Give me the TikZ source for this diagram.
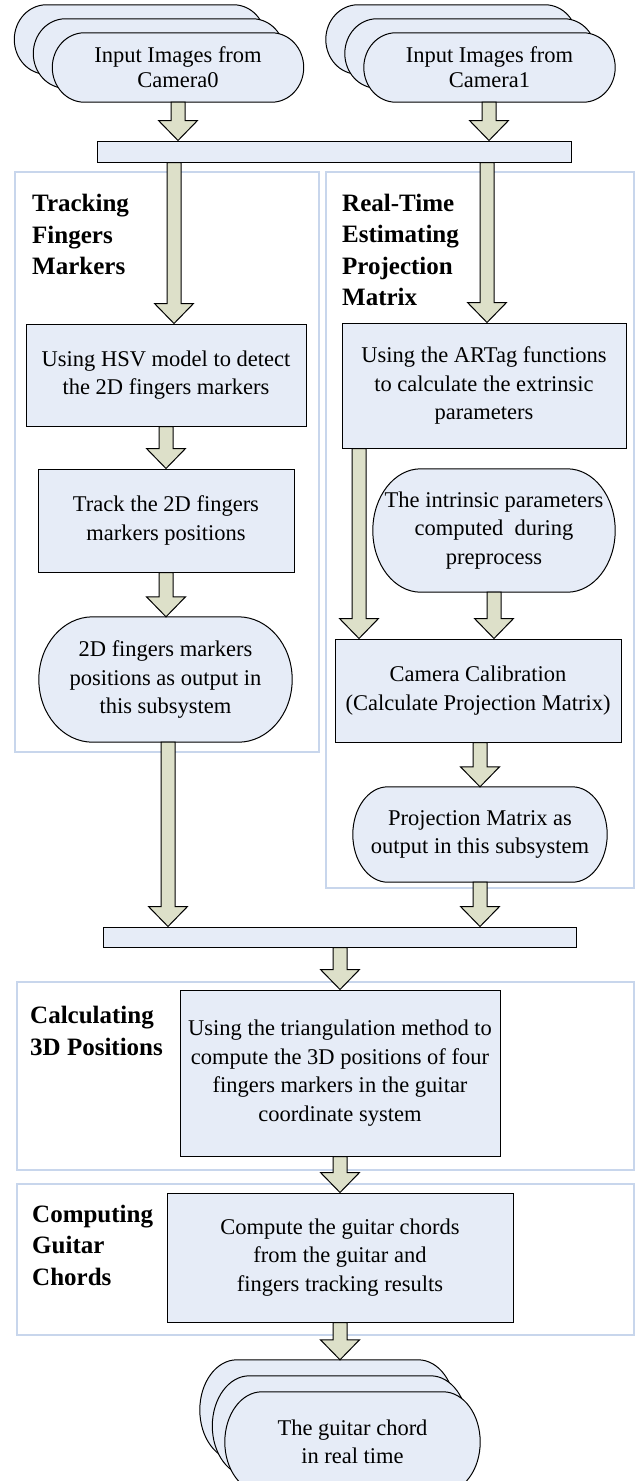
\documentclass[tikz,border=0pt]{standalone}
\usepackage{fontspec}
\setmainfont{Liberation Serif}
\usetikzlibrary{calc,backgrounds}

\definecolor{nodefill}{HTML}{E6ECF7}
\definecolor{arrowfill}{HTML}{DDE0C9}
\definecolor{sectline}{HTML}{C8D6EC}

\newcommand\txtfont{\fontsize{22.5}{28.5}\selectfont}
\newcommand\stackfont{\fontsize{22.5}{25}\selectfont}
\newcommand\hdfont{\fontsize{25}{31.5}\selectfont\bfseries}

\tikzset{
  box/.style={draw=black, fill=nodefill, line width=1pt, align=center, inner sep=0pt, font=\txtfont},
  term/.style={align=center, inner sep=0pt, font=\txtfont},
  stadiumshape/.style={draw=black, fill=nodefill, line width=1pt},
  blockarrow/.style={draw=black, fill=arrowfill, line width=1pt, line join=miter},
  section/.style={draw=sectline, line width=1.3pt, inner sep=0pt},
  heading/.style={anchor=west, align=left, inner sep=0pt, font=\hdfont},
}

% terminal outline behind a text node: straight top and bottom, elliptic ends
\newcommand\stadium[2]{%
  \begin{scope}[on background layer]
    \path[stadiumshape] let \p1=(#1.north west), \p2=(#1.south east), \n1={(\y1-\y2)/2} in
      (\x1+#2pt,\y1) -- (\x2-#2pt,\y1)
      arc[start angle=90, end angle=-90, x radius=#2pt, y radius={\n1*1pt}]
      -- (\x1+#2pt,\y2)
      arc[start angle=270, end angle=90, x radius=#2pt, y radius={\n1*1pt}]
      -- cycle;
  \end{scope}}

% wide block arrow at horizontal position #1, from node #2 down to node #3
\newcommand\fatarrow[3]{%
  \path[blockarrow] let \p1=(#2.south), \p2=(#3.north) in
    (#1pt-7pt,\y1) -- (#1pt+7pt,\y1) -- (#1pt+7pt,\y2+20pt) -- (#1pt+19.5pt,\y2+20pt)
    -- (#1pt,\y2) -- (#1pt-19.5pt,\y2+20pt) -- (#1pt-7pt,\y2+20pt) -- cycle;}

\begin{document}
\begin{tikzpicture}[x=1pt, y=-1pt]
\path[use as bounding box] (0,0) rectangle (635,1481);

\begin{scope}[on background layer]
  \fill[white] (0,0) rectangle (635,1481);
  % subsystem frames
  \node[section, minimum width=304, minimum height=580] (sec1) at (167,462) {};
  \node[section, minimum width=308, minimum height=716] (sec2) at (480,530) {};
  \node[section, minimum width=617, minimum height=188] (sec3) at (325.5,1076) {};
  \node[section, minimum width=617, minimum height=151] (sec4) at (325.5,1259.5) {};
\end{scope}

% subsystem headings
\node[heading] (h1) at (32,234.5) {Tracking\\Fingers\\Markers};
\node[heading] (h2) at (342,250) {Real-Time\\Estimating\\Projection\\Matrix};
\node[heading] (h3) at (30,1031) {Calculating\\3D Positions};
\node[heading] (h4) at (32,1245) {Computing\\Guitar\\Chords};

% camera image stacks
\node[term, minimum width=251, minimum height=69] (cam0b) at (140,39.5) {};
\node[term, minimum width=251, minimum height=69] (cam0m) at (159,53.5) {};
\node[term, font=\stackfont, minimum width=251, minimum height=69] (cam0f) at (178,67.5) {Input Images from\\Camera0};
\stadium{cam0b}{32}\stadium{cam0m}{32}\stadium{cam0f}{32}

\node[term, minimum width=251, minimum height=69] (cam1b) at (451.5,39.5) {};
\node[term, minimum width=251, minimum height=69] (cam1m) at (470.5,53.5) {};
\node[term, font=\stackfont, minimum width=251, minimum height=69] (cam1f) at (489.5,67.5) {Input Images from\\Camera1};
\stadium{cam1b}{32}\stadium{cam1m}{32}\stadium{cam1f}{32}

% split bar
\node[box, minimum width=474, minimum height=21] (bar1) at (334,151.5) {};

% finger tracking
\node[box, minimum width=280, minimum height=102] (hsv) at (166,375) {Using HSV model to detect\\the 2D fingers markers};
\node[box, minimum width=256, minimum height=103] (track) at (166,520.5) {Track the 2D fingers\\markers positions};
\node[term, minimum width=253, minimum height=125] (oval1) at (165.5,679.5) {2D fingers markers\\positions as output in\\this subsystem};
\stadium{oval1}{54}

% projection matrix estimation
\node[box, minimum width=284, minimum height=125] (artag) at (484,385.5) {Using the ARTag functions\\to calculate the extrinsic\\parameters};
\node[term, minimum width=242, minimum height=123] (intr) at (494,530.5) {The intrinsic parameters\\computed~~during\\preprocess};
\stadium{intr}{48}
\node[box, minimum width=286, minimum height=103] (calib) at (478,690.5) {Camera Calibration\\(Calculate Projection Matrix)};
\node[term, minimum width=254, minimum height=95] (proj) at (480,834.5) {Projection Matrix as\\output in this subsystem};
\stadium{proj}{35}

% join bar
\node[box, minimum width=473, minimum height=20] (bar2) at (339.5,937) {};

% 3D reconstruction and chord recognition
\node[box, minimum width=320, minimum height=166] (tri) at (340,1073) {Using the triangulation method to\\compute the 3D positions of four\\fingers markers in the guitar\\coordinate system};
\node[box, minimum width=346, minimum height=129] (compute) at (340,1257.5) {Compute the guitar chords\\from the guitar and\\fingers tracking results};

% result stack
\node[term, minimum width=255, minimum height=100] (chordb) at (327.5,1410) {};
\node[term, minimum width=255, minimum height=100] (chordm) at (340,1426) {};
\node[term, minimum width=255, minimum height=100] (chordf) at (352.5,1442) {The guitar chord\\in real time};
\stadium{chordb}{37}\stadium{chordm}{37}\stadium{chordf}{37}

% flow arrows
\fatarrow{178}{cam0f}{bar1}
\fatarrow{489}{cam1f}{bar1}
\fatarrow{174}{bar1}{hsv}
\fatarrow{166}{hsv}{track}
\fatarrow{166}{track}{oval1}
\fatarrow{168}{oval1}{bar2}
\fatarrow{487}{bar1}{artag}
\fatarrow{359}{artag}{calib}
\fatarrow{494}{intr}{calib}
\fatarrow{480}{calib}{proj}
\fatarrow{480}{proj}{bar2}
\fatarrow{340}{bar2}{tri}
\fatarrow{340}{tri}{compute}
\fatarrow{340}{compute}{chordb}
\end{tikzpicture}
\end{document}
